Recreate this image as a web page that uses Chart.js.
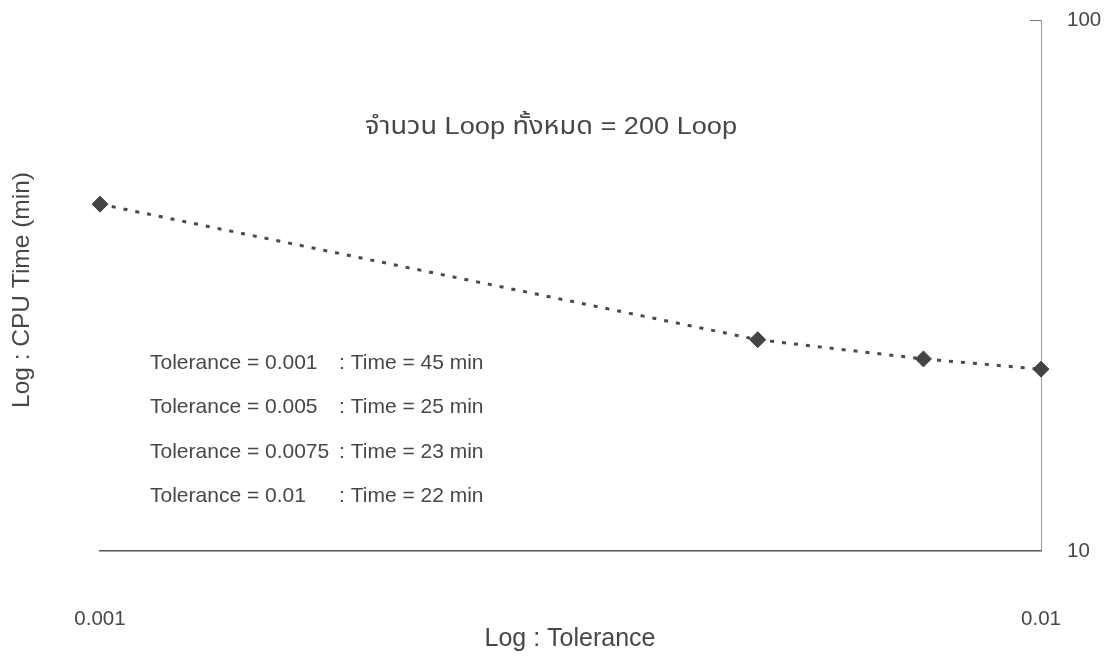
<!DOCTYPE html>
<html>
<head>
<meta charset="utf-8">
<script src="https://cdn.jsdelivr.net/npm/chart.js@4.4.1/dist/chart.umd.min.js"></script>
<style>
  html, body { margin: 0; padding: 0; background: #ffffff; }
  #wrap { width: 1115px; height: 656px; position: relative; }
</style>
</head>
<body>
<div id="wrap"><canvas id="chart" width="1115" height="656"></canvas></div>
<script>
// Tolerance (x, log scale) versus CPU time in minutes (y, log scale)
const tolerances = [0.001, 0.005, 0.0075, 0.01];
const tolLabels  = ['0.001', '0.005', '0.0075', '0.01'];
const cpuTimes   = [45, 25, 23, 22];
const xTickValues = [0.001, 0.01];
const yTickValues = [10, 100];
const chartTitle = 'จำนวน Loop ทั้งหมด = 200 Loop';
const xTitle = 'Log : Tolerance';
const yTitle = 'Log : CPU Time (min)';

const FONT = "'Liberation Sans', Arial, 'Noto Sans Thai', 'Noto Sans', sans-serif";
const TEXT = '#474747';

// draw text centred at (x, y), stretched horizontally to the given width
function stretchedText(ctx, text, x, y, width) {
  const w = ctx.measureText(text).width;
  ctx.save();
  ctx.translate(x, y);
  ctx.scale(width / w, 1);
  ctx.fillText(text, 0, 0);
  ctx.restore();
}

// Extra text drawn inside and around the plot
const annotations = {
  id: 'annotations',
  afterDraw(chart) {
    const { ctx, chartArea, scales } = chart;
    ctx.save();
    ctx.fillStyle = TEXT;

    // heading inside the plot
    ctx.font = '24px ' + FONT;
    ctx.textAlign = 'center';
    ctx.textBaseline = 'middle';
    stretchedText(ctx, chartTitle, 551, 127, 372);

    // tolerance / time notes
    ctx.font = '21px ' + FONT;
    ctx.textAlign = 'left';
    tolerances.forEach((t, i) => {
      const y = 363 + i * 44.5;
      ctx.fillText('Tolerance = ' + tolLabels[i], 150, y);
      ctx.fillText(': Time = ' + cpuTimes[i] + ' min', 339, y);
    });

    // axis titles
    ctx.font = '25px ' + FONT;
    ctx.textAlign = 'center';
    ctx.fillText(xTitle, 570, 639);
    ctx.save();
    ctx.translate(22, 290);
    ctx.rotate(-Math.PI / 2);
    ctx.font = '24.5px ' + FONT;
    ctx.fillText(yTitle, 0, 0);
    ctx.restore();

    // short tick at the top of the right axis
    const yTop = scales.y.getPixelForValue(100);
    ctx.strokeStyle = '#777';
    ctx.lineWidth = 1;
    ctx.beginPath();
    ctx.moveTo(chartArea.right - 11, yTop + 0.5);
    ctx.lineTo(chartArea.right, yTop + 0.5);
    ctx.stroke();
    ctx.restore();
  }
};

new Chart(document.getElementById('chart'), {
  type: 'line',
  data: {
    datasets: [{
      data: tolerances.map((t, i) => ({ x: t, y: cpuTimes[i] })),
      borderColor: '#4a4a4a',
      borderWidth: 3,
      borderDash: [4, 8],
      borderCapStyle: 'butt',
      tension: 0,
      pointStyle: 'rectRot',
      pointRadius: 8,
      pointBackgroundColor: '#444444',
      pointBorderColor: '#444444',
      pointBorderWidth: 1,
      clip: false
    }]
  },
  options: {
    responsive: false,
    animation: false,
    layout: { padding: { left: 100, top: 20, right: 0, bottom: 0 } },
    plugins: {
      legend: { display: false },
      title: { display: false },
      tooltip: { enabled: false }
    },
    scales: {
      x: {
        type: 'logarithmic',
        min: 0.001,
        max: 0.01,
        afterBuildTicks(scale) { scale.ticks = xTickValues.map(v => ({ value: v })); },
        afterFit(scale) {
          scale.height = 105;
          scale.paddingLeft = 0;
          scale.paddingRight = 0;
        },
        grid: { display: false },
        border: { display: true, color: '#555555', width: 1.5 },
        ticks: {
          autoSkip: false,
          maxRotation: 0,
          padding: 48,
          color: TEXT,
          font: { family: FONT, size: 20.5 },
          callback: (v) => String(v)
        }
      },
      y: {
        type: 'logarithmic',
        position: 'right',
        min: 10,
        max: 100,
        afterBuildTicks(scale) { scale.ticks = yTickValues.map(v => ({ value: v })); },
        afterFit(scale) {
          scale.width = 74;
          scale.paddingTop = 0;
          scale.paddingBottom = 0;
        },
        grid: { display: false },
        border: { display: true, color: '#9a9a9a', width: 1, dash: [3, 3] },
        ticks: {
          padding: 18,
          color: TEXT,
          font: { family: FONT, size: 20.5 },
          callback: (v) => String(v)
        }
      }
    }
  },
  plugins: [annotations]
});
</script>
</body>
</html>
